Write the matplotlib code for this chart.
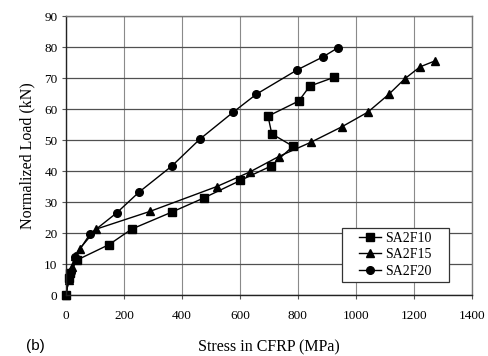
import matplotlib.pyplot as plt
from matplotlib.patches import Rectangle

# load vs. CFRP stress, three specimens
sa2f10_stress = [0, 10, 14, 38, 149, 227, 366, 475, 602, 707, 783, 710, 697, 803, 841, 924]
sa2f10_load = [0, 5.5, 7, 11.3, 16.3, 21.3, 26.8, 31.3, 37, 41.6, 48, 52, 57.7, 62.6, 67.4, 70.2]

sa2f15_stress = [0, 10, 20, 30, 48, 105, 290, 520, 634, 734, 845, 952, 1041, 1114, 1169, 1221, 1272]
sa2f15_load = [0, 5, 9, 12.5, 15, 21.3, 27, 35, 39.7, 44.7, 49.3, 54.3, 59, 64.8, 69.8, 73.6, 75.5]

sa2f20_stress = [0, 10, 18, 31, 83, 175, 252, 365, 462, 577, 657, 797, 886, 937]
sa2f20_load = [0, 5, 7.5, 12.3, 19.7, 26.5, 33.2, 41.6, 50.3, 59, 64.8, 72.6, 76.8, 79.7]

x_ticks = [0, 200, 400, 600, 800, 1000, 1200, 1400]
y_ticks = [0, 10, 20, 30, 40, 50, 60, 70, 80, 90]

plt.rcParams["font.family"] = ["Liberation Serif", "DejaVu Serif"]

fig = plt.figure(figsize=(4.88, 3.56), dpi=100)
ax = fig.add_axes([0.135, 0.171, 0.832, 0.784])

ax.plot(sa2f10_stress, sa2f10_load, "k-s", lw=1.0, ms=5.5, label="SA2F10", clip_on=False)
ax.plot(sa2f15_stress, sa2f15_load, "k-^", lw=1.0, ms=6, label="SA2F15", clip_on=False)
ax.plot(sa2f20_stress, sa2f20_load, "k-o", lw=1.0, ms=5.5, label="SA2F20", clip_on=False)

ax.set_xlim(0, 1400)
ax.set_ylim(0, 90)
ax.set_xticks(x_ticks)
ax.set_yticks(y_ticks)
ax.tick_params(labelsize=9.5, length=3, width=0.8, color="#555555", direction="out")
ax.tick_params(axis="x", pad=8)
ax.tick_params(axis="y", pad=3)
ax.yaxis.grid(True, color="#505050", lw=0.9)
ax.xaxis.grid(True, color="#8a8a8a", lw=0.8)
ax.set_axisbelow(True)
for side, sp in ax.spines.items():
    sp.set_linewidth(1.0)
    sp.set_color("#222222" if side in ("left", "bottom") else "#777777")

ax.set_xlabel("Stress in CFRP (MPa)", fontsize=11.5, va="center")
ax.xaxis.set_label_coords(0.5, -0.186)
ax.set_ylabel("Normalized Load (kN)", fontsize=11.5, va="center")
ax.yaxis.set_label_coords(-0.096, 0.5)

leg = ax.legend(loc="center", bbox_to_anchor=(0.8116, 0.145), fontsize=10,
                frameon=False, handlelength=1.6, handletextpad=0.3,
                borderpad=0.0, labelspacing=0.25)

# legend frame with wider side padding than matplotlib allows
fig.canvas.draw()
bb = leg.get_window_extent(fig.canvas.get_renderer())
frame = Rectangle((bb.x0 - 17, bb.y0 - 4), bb.width + 34, bb.height + 8,
                  transform=None, fill=True, facecolor="white",
                  edgecolor="#333333", lw=0.9, zorder=4)
fig.patches.append(frame)
leg.set_zorder(5)
leg.remove()
fig.legends.append(leg)

fig.text(0.053, 0.028, "(b)", fontsize=11, family="Liberation Sans", va="center")

fig.savefig("out.png", dpi=100)
